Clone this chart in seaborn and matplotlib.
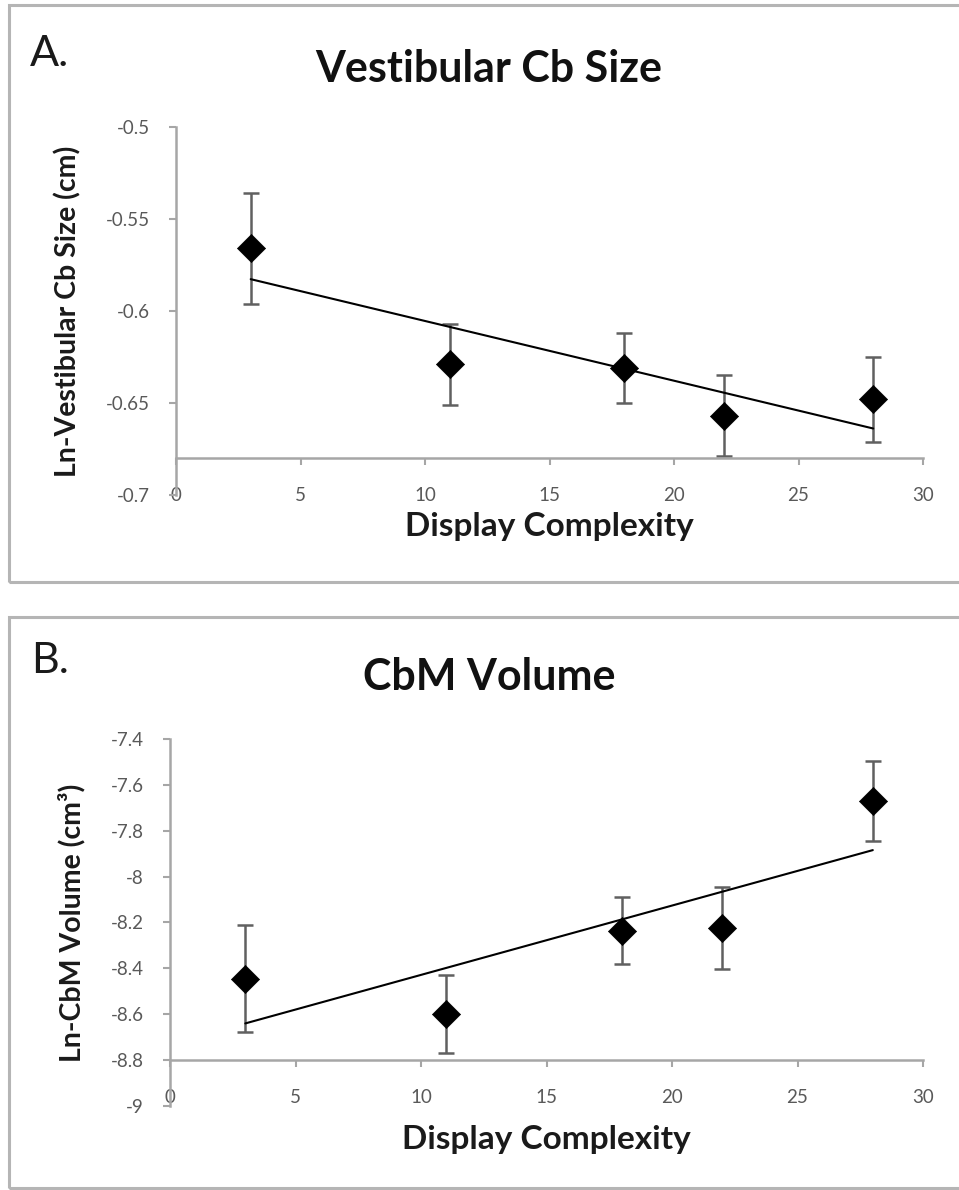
import matplotlib
matplotlib.use("Agg")
import matplotlib.pyplot as plt
from matplotlib.patches import Rectangle
import seaborn as sns

# display complexity levels (x)
complexity = [3, 11, 18, 22, 28]

# panel A: ln vestibular cerebellum size (cm) with error bars
vest_size = [-0.566, -0.629, -0.631, -0.657, -0.648]
vest_err = [0.030, 0.022, 0.019, 0.022, 0.023]

# panel B: ln CbM volume (cm3) with error bars
cbm_vol = [-8.446, -8.598, -8.237, -8.224, -7.670]
cbm_err = [0.233, 0.170, 0.146, 0.178, 0.174]

x_ticks = [0, 5, 10, 15, 20, 25, 30]
a_yticks = [-0.7, -0.65, -0.6, -0.55, -0.5]
a_ylabels = ["-0.7", "-0.65", "-0.6", "-0.55", "-0.5"]
b_yticks = [-9, -8.8, -8.6, -8.4, -8.2, -8, -7.8, -7.6, -7.4]
b_ylabels = ["-9", "-8.8", "-8.6", "-8.4", "-8.2", "-8", "-7.8", "-7.6", "-7.4"]

sns.set_theme(style="white")
plt.rcParams["font.family"] = ["Lato", "DejaVu Sans"]

W, H = 959, 1190
fig = plt.figure(figsize=(W / 100, H / 100), dpi=100)

axis_grey = "#a6a6a6"
tick_grey = "#595959"


def panel(ax, y, err, yticks, ylabels, cross, ylabel, xpad, ylab_x, xlab_y):
    ax.errorbar(complexity, y, yerr=err, fmt="none", ecolor="#606060",
                elinewidth=1.8, capsize=5.5, capthick=1.8, zorder=2)
    sns.regplot(x=complexity, y=y, ax=ax, scatter=False, ci=None, truncate=True,
                line_kws=dict(color="black", lw=1.5, zorder=3))
    sns.scatterplot(x=complexity, y=y, ax=ax, marker="D", s=205, color="black",
                    edgecolor="black", linewidth=0.5, zorder=4)
    ax.set_xlim(0, 30)
    ax.set_ylim(yticks[0], yticks[-1])
    ax.set_xticks(x_ticks)
    ax.set_xticklabels([str(t) for t in x_ticks])
    ax.set_yticks(yticks)
    ax.set_yticklabels(ylabels)
    for s in ["top", "right"]:
        ax.spines[s].set_visible(False)
    for s in ["left", "bottom"]:
        ax.spines[s].set_color(axis_grey)
        ax.spines[s].set_linewidth(1.8)
    ax.spines["bottom"].set_position(("data", cross))
    ax.tick_params(axis="x", bottom=True, direction="out", length=5, width=1.5,
                   color=axis_grey, pad=xpad, labelsize=13.5, labelcolor=tick_grey)
    ax.tick_params(axis="y", left=True, direction="out", length=5, width=1.5,
                   color=axis_grey, pad=14, labelsize=13.5, labelcolor=tick_grey)
    ax.set_xlabel("Display Complexity", fontsize=24, fontweight="bold", color="#1a1a1a")
    ax.xaxis.set_label_coords(0.5, xlab_y)
    ax.xaxis.label.set_va("top")
    ax.set_ylabel(ylabel, fontsize=20.5, fontweight="bold", color="#1a1a1a")
    ax.yaxis.set_label_coords(ylab_x, 0.5)
    ax.patch.set_alpha(0)


axA = fig.add_axes([176 / W, 1 - 495 / H, 747 / W, 368 / H])
panel(axA, vest_size, vest_err, a_yticks, a_ylabels, -0.68,
      "Ln-Vestibular Cb Size (cm)", 16, -0.126, -0.045)

axB = fig.add_axes([170 / W, 1 - 1106 / H, 753 / W, 367 / H])
panel(axB, cbm_vol, cbm_err, b_yticks, b_ylabels, -8.8,
      "Ln-CbM Volume (cm\u00b3)", 15.5, -0.112, -0.053)

# panel frames
for top, bottom in [(5, 582), (617, 1188)]:
    fig.add_artist(Rectangle((9 / W, 1 - bottom / H), 1.0, (bottom - top) / H,
                             transform=fig.transFigure, fill=False,
                             ec="#b5b5b5", lw=2.2))

# panel letters and titles
fig.text(30 / W, 1 - 66 / H, "A.", fontsize=31, va="baseline", ha="left", color="#1a1a1a")
fig.text(31 / W, 1 - 673 / H, "B.", fontsize=31, va="baseline", ha="left", color="#1a1a1a")
fig.text(489 / W, 1 - 82 / H, "Vestibular Cb Size", fontsize=31, fontweight="bold",
         va="baseline", ha="center", color="#111111")
fig.text(489 / W, 1 - 690 / H, "CbM Volume", fontsize=31, fontweight="bold",
         va="baseline", ha="center", color="#111111")

fig.savefig("out.png", dpi=100)
